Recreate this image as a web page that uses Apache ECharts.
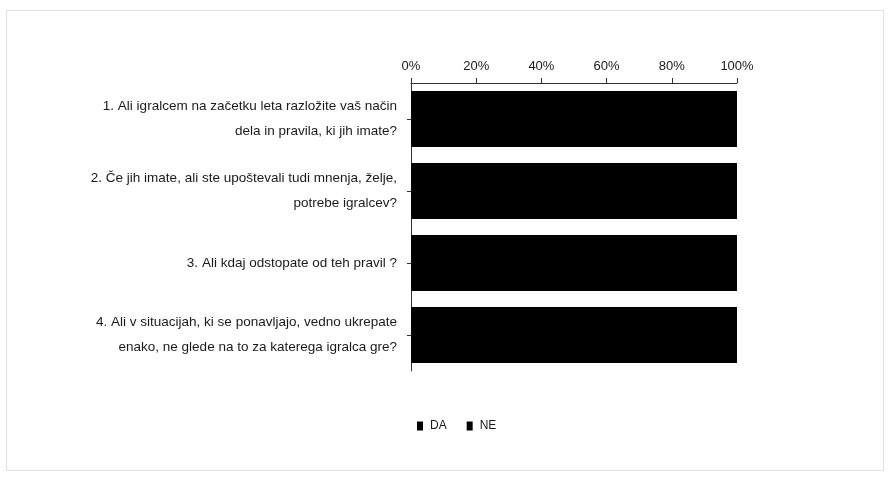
<!DOCTYPE html>
<html>
<head>
<meta charset="utf-8">
<script src="https://cdn.jsdelivr.net/npm/echarts@6/dist/echarts.min.js"></script>
<style>
  html, body { margin: 0; padding: 0; background: #ffffff; }
  #chart { width: 889px; height: 495px; }
</style>
</head>
<body>
<div id="chart"></div>
<script>
// Survey questions (y categories, top to bottom)
const categories = [
  '1. Ali igralcem na začetku leta razložite vaš način\ndela in pravila, ki jih imate?',
  '2. Če jih imate, ali ste upoštevali tudi mnenja, želje,\npotrebe igralcev?',
  '3. Ali kdaj odstopate od teh pravil ?',
  '4. Ali v situacijah, ki se ponavljajo, vedno ukrepate\nenako, ne glede na to za katerega igralca gre?'
];
// Share of answers, percent
const seriesNames = ['DA', 'NE'];
const daValues = [90, 84, 66, 53];
const neValues = [10, 16, 34, 47];
const xTicks = [0, 20, 40, 60, 80, 100];

const chart = echarts.init(document.getElementById('chart'), null, { renderer: 'canvas' });
const textColor = '#1a1a1a';
const fontFamily = '"Liberation Sans", "DejaVu Sans", sans-serif';

chart.setOption({
  backgroundColor: '#ffffff',
  animation: false,
  graphic: [{
    type: 'rect',
    shape: { x: 6.5, y: 10.5, width: 877, height: 460 },
    style: { fill: 'none', stroke: '#e0e0e0', lineWidth: 1 },
    silent: true
  }],
  grid: { left: 411, right: 152, top: 83, bottom: 124 },
  legend: {
    data: seriesNames,
    top: 415,
    left: 412,
    icon: 'rect',
    itemWidth: 6,
    itemHeight: 9,
    itemGap: 20,
    textStyle: { color: textColor, fontSize: 12, fontFamily: fontFamily, padding: [0, 0, 0, 2] }
  },
  xAxis: {
    type: 'value',
    position: 'top',
    min: xTicks[0],
    max: xTicks[xTicks.length - 1],
    interval: 20,
    axisLine: { show: true, lineStyle: { color: '#333', width: 1 } },
    axisTick: { show: true, length: 5, inside: false, lineStyle: { color: '#333' } },
    splitLine: { show: false },
    axisLabel: {
      color: textColor, fontSize: 13, fontFamily: fontFamily, margin: 10,
      formatter: '{value}%'
    }
  },
  yAxis: {
    type: 'category',
    inverse: true,
    data: categories,
    axisLine: { show: true, lineStyle: { color: '#333', width: 1 } },
    axisTick: { show: true, alignWithLabel: true, length: 4, lineStyle: { color: '#333' } },
    axisLabel: {
      color: textColor, fontSize: 13.5, fontFamily: fontFamily,
      margin: 14, align: 'right', lineHeight: 25
    }
  },
  series: [
    {
      // a 1px hard shadow to the right closes the anti-aliased seam against the NE segment
      name: seriesNames[0], type: 'bar', stack: 'total', data: daValues,
      barCategoryGap: '22%',
      itemStyle: { color: '#000000', shadowColor: '#000000', shadowBlur: 0, shadowOffsetX: 1 }
    },
    {
      name: seriesNames[1], type: 'bar', stack: 'total', data: neValues,
      barCategoryGap: '22%',
      itemStyle: { color: '#000000' }
    }
  ]
});
</script>
</body>
</html>
